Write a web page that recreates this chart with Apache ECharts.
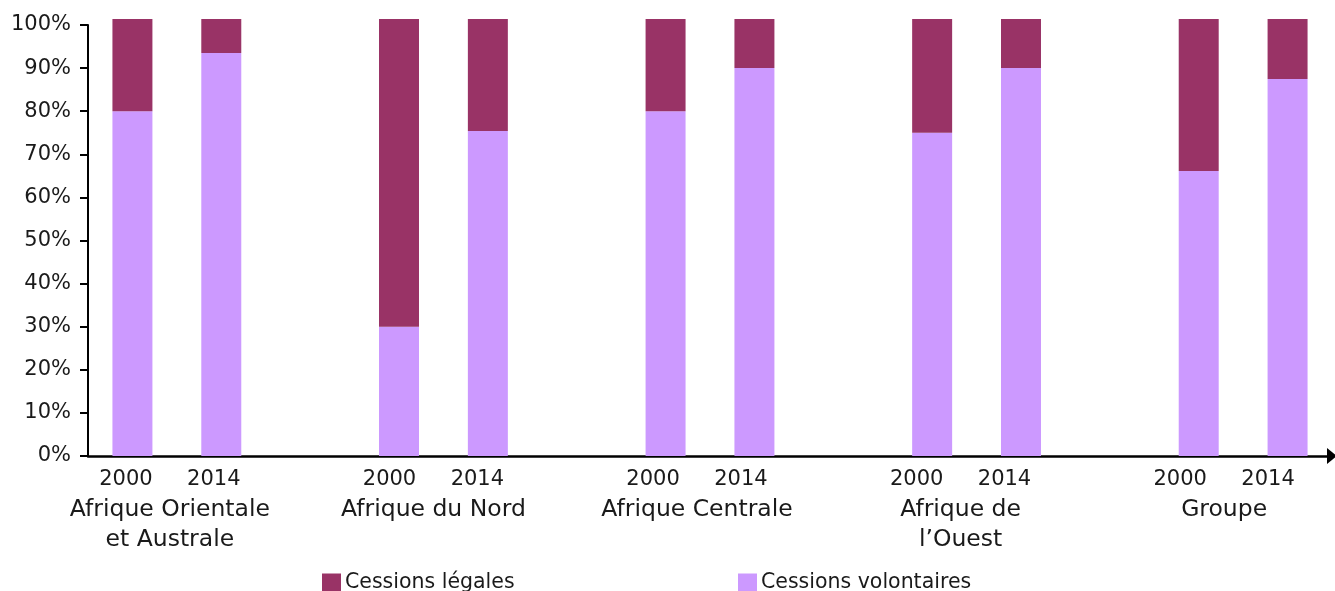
<!DOCTYPE html>
<html>
<head>
<meta charset="utf-8">
<script src="https://cdn.jsdelivr.net/npm/echarts@6/dist/echarts.min.js"></script>
<style>
  html, body { margin: 0; padding: 0; background: #fff; }
  #main { width: 1335px; height: 591px; }
</style>
</head>
<body>
<div id="main"></div>
<script>
// années sous chaque barre (une case vide entre les groupes)
var years = ['2000', '2014', '', '2000', '2014', '', '2000', '2014', '', '2000', '2014', '', '2000', '2014'];
// noms des groupes, placés entre les deux barres
var groups = ['', 'Afrique Orientale\net Australe', '', '', 'Afrique du Nord', '', '', 'Afrique Centrale', '', '',
  'Afrique de\nl\u2019Ouest', '', '', 'Groupe', ''];
var yTicks = [0, 10, 20, 30, 40, 50, 60, 70, 80, 90, 100];

// valeurs (%)
var volontaires = [80, 93.5, '-', 30, 75.4, '-', 80, 90, '-', 75, 90, '-', 66.1, 87.5];
var legales = [21.4, 7.9, '-', 71.4, 26, '-', 21.4, 11.4, '-', 26.4, 11.4, '-', 35.3, 13.9];

var chart = echarts.init(document.getElementById('main'));
var font = '"DejaVu Sans", sans-serif';
var txt = '#1a1a1a';

var option = {
  animation: false,
  textStyle: { fontFamily: font },
  // grille 0 : barres et axes ; grille 1 : étiquettes (un peu plus étroite, comme dans l'original)
  grid: [
    { left: 88, right: 3, top: 25, bottom: 135 },
    { left: 82, right: 23, top: 25, bottom: 135 }
  ],
  legend: [{
    data: ['Cessions légales'],
    left: 317, top: 567,
    itemWidth: 19, itemHeight: 18, itemGap: 0,
    icon: 'rect',
    textStyle: { fontSize: 20.5, color: txt, fontFamily: font, padding: [0, 0, 0, -1] }
  }, {
    data: ['Cessions volontaires'],
    left: 733, top: 567,
    itemWidth: 19, itemHeight: 18, itemGap: 0,
    icon: 'rect',
    textStyle: { fontSize: 20.5, color: txt, fontFamily: font, padding: [0, 0, 0, -1] }
  }],
  xAxis: [{
    type: 'category',
    gridIndex: 0,
    data: years,
    axisLine: {
      lineStyle: { color: '#000', width: 2.5 },
      symbol: ['none', 'triangle'],
      symbolSize: [16, 10]
    },
    axisTick: { show: false },
    axisLabel: { show: false }
  }, {
    type: 'category',
    gridIndex: 1,
    data: years,
    axisLine: { show: false },
    axisTick: { show: false },
    axisLabel: { interval: 0, margin: 13, fontSize: 21, color: txt }
  }, {
    type: 'category',
    gridIndex: 1,
    position: 'bottom',
    boundaryGap: false,
    data: groups,
    axisLine: { show: false },
    axisTick: { show: false },
    axisLabel: { interval: 0, margin: 39, fontSize: 23.5, lineHeight: 30, color: txt }
  }],
  yAxis: [{
    type: 'value',
    gridIndex: 0,
    min: 0,
    max: 100,
    interval: 10,
    axisLine: { show: true, lineStyle: { color: '#000', width: 2 } },
    axisTick: { show: true, length: 8, lineStyle: { color: '#000', width: 2 } },
    splitLine: { show: false },
    axisLabel: {
      margin: 17, fontSize: 21, color: txt,
      formatter: function (v) { return yTicks.indexOf(v) >= 0 ? v + '%' : ''; }
    }
  }, {
    type: 'value',
    gridIndex: 1,
    show: false
  }],
  series: [{
    name: 'Cessions volontaires',
    type: 'bar',
    stack: 'total',
    data: volontaires,
    barWidth: '45%',
    clip: false,
    itemStyle: { color: '#CC99FF' }
  }, {
    name: 'Cessions légales',
    type: 'bar',
    stack: 'total',
    data: legales,
    barWidth: '45%',
    clip: false,
    itemStyle: { color: '#993366' }
  }]
};

chart.setOption(option);
</script>
</body>
</html>
